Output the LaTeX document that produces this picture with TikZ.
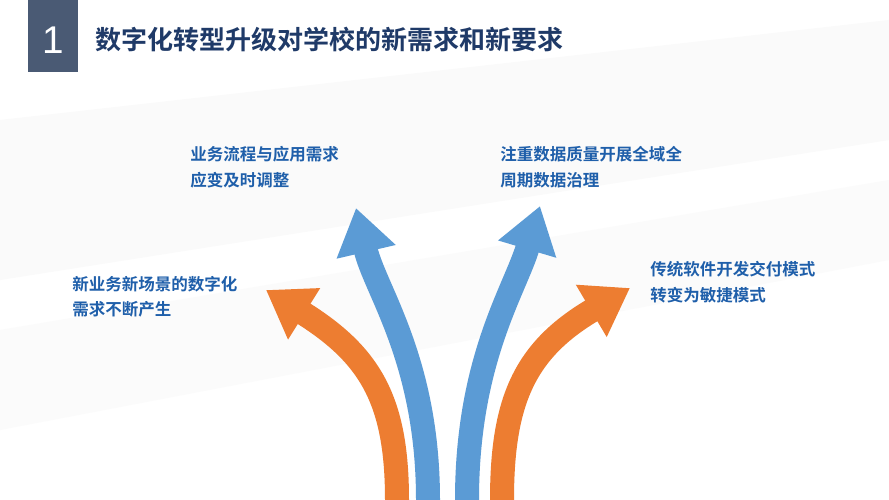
\documentclass[tikz,border=0pt]{standalone}
\usepackage{fontspec}
\setmainfont{Liberation Sans}
\newfontfamily\cjk{Noto Sans CJK SC}[BoldFont={Noto Sans CJK SC Bold}]
\usetikzlibrary{arrows.meta}
\definecolor{navy}{HTML}{1F3A68}
\definecolor{slate}{HTML}{4A5A74}
\definecolor{arrblue}{HTML}{5B9BD5}
\definecolor{arrorange}{HTML}{ED7D31}
\definecolor{txtblue}{HTML}{1F5FAA}
\begin{document}
\begin{tikzpicture}[x=0.02cm,y=-0.02cm,
    band/.style={line width=24*0.02cm, -{Triangle[length=0.9cm,width=1.15cm]}},
    label/.style={font=\cjk\bfseries\fontsize{9.4}{14.5}\selectfont, text=txtblue, align=left, anchor=north west, inner sep=0pt}
]
\useasboundingbox (0,0) rectangle (889,500);
\fill[white] (0,0) rectangle (889,500);
% faint background bands
\fill[gray!4] (0,120) -- (889,20) -- (889,140) -- (0,280) -- cycle;
\fill[gray!3] (0,330) -- (889,180) -- (889,260) -- (0,430) -- cycle;
% title
\fill[slate] (28,0) rectangle (78,72);
\node[text=white, font=\fontsize{22}{24}\selectfont] (num) at (53,40) {1};
\node[text=navy, font=\cjk\bfseries\fontsize{14.8}{16}\selectfont, anchor=west, inner sep=0pt] (title) at (95,40) {数字化转型升级对学校的新需求和新要求};
% arrows
\coordinate (ol0) at (397,500);
\coordinate (bl0) at (428,500);
\coordinate (br0) at (467,500);
\coordinate (or0) at (502,500);
\coordinate (ol1) at (266,290);
\coordinate (bl1) at (356,208);
\coordinate (br1) at (540,206);
\coordinate (or1) at (630,288);
\draw[band, arrorange] (ol0) .. controls (397,400) and (370,355) .. (ol1);
\draw[band, arrblue] (bl0) .. controls (428,360) and (375,290) .. (bl1);
\draw[band, arrblue] (br0) .. controls (467,360) and (515,290) .. (br1);
\draw[band, arrorange] (or0) .. controls (502,400) and (525,350) .. (or1);
% labels
\node[label] (t1) at (190,146) {业务流程与应用需求\\应变及时调整};
\node[label] (t2) at (500,146) {注重数据质量开展全域全\\周期数据治理};
\node[label] (t3) at (72,276) {新业务新场景的数字化\\需求不断产生};
\node[label] (t4) at (650,261) {传统软件开发交付模式\\转变为敏捷模式};
\end{tikzpicture}
\end{document}
